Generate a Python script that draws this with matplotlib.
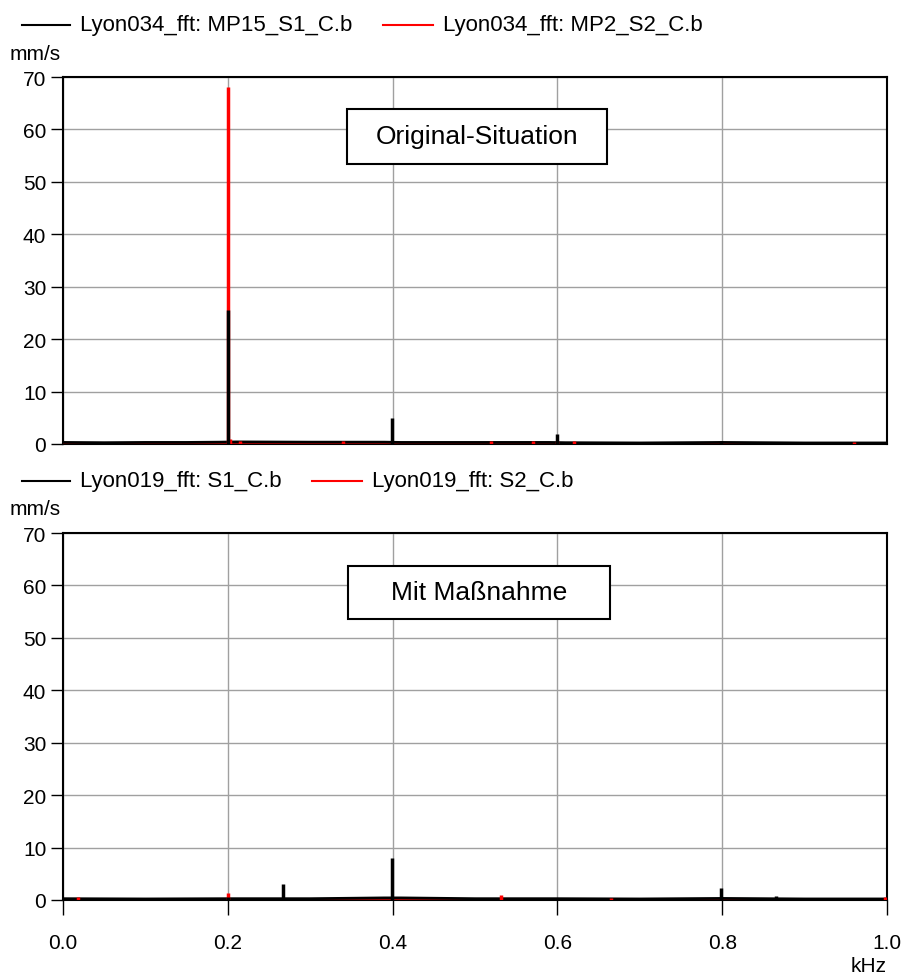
import matplotlib
matplotlib.use("Agg")
import matplotlib.pyplot as plt
from matplotlib.lines import Line2D
from matplotlib.patches import Rectangle

plt.rcParams['font.family'] = ['Liberation Sans', 'DejaVu Sans']

# --- data (kHz, mm/s) ---
# top: Lyon034
top_black_base_f = [0.0, 0.05, 0.1, 0.15, 0.19, 0.21, 0.3, 0.39, 0.41, 0.5, 0.59, 0.61, 0.7, 0.8, 0.9, 1.0]
top_black_base_a = [0.3, 0.25, 0.3, 0.3, 0.35, 0.4, 0.35, 0.35, 0.3, 0.3, 0.3, 0.25, 0.2, 0.3, 0.2, 0.2]
top_black_peak_f = [0.2005, 0.399, 0.599, 0.798, 0.998]
top_black_peak_a = [25.5, 5.0, 1.9, 0.5, 0.4]

top_red_base_f = [0.0, 0.1, 0.19, 0.21, 0.3, 0.4, 0.55, 0.6, 0.65, 0.8, 1.0]
top_red_base_a = [0.1, 0.1, 0.15, 0.2, 0.15, 0.15, 0.2, 0.2, 0.15, 0.1, 0.15]
top_red_peak_f = [0.2005, 0.203, 0.215, 0.34, 0.52, 0.57, 0.6, 0.62, 0.96]
top_red_peak_a = [68.0, 1.0, 0.6, 0.5, 0.5, 0.6, 0.6, 0.5, 0.4]

# bottom: Lyon019
bot_black_base_f = [0.0, 0.1, 0.2, 0.3, 0.39, 0.41, 0.5, 0.6, 0.7, 0.8, 0.9, 1.0]
bot_black_base_a = [0.25, 0.2, 0.25, 0.25, 0.4, 0.4, 0.25, 0.25, 0.2, 0.3, 0.2, 0.2]
bot_black_peak_f = [0.2, 0.2665, 0.3995, 0.7985, 0.865]
bot_black_peak_a = [0.6, 3.0, 8.1, 2.2, 0.8]

bot_red_base_f = [0.0, 0.25, 0.5, 0.75, 1.0]
bot_red_base_a = [0.1, 0.1, 0.1, 0.1, 0.1]
bot_red_peak_f = [0.018, 0.2, 0.532, 0.665, 0.998]
bot_red_peak_a = [0.5, 1.3, 1.0, 0.3, 0.6]

legend_top = ['Lyon034_fft: MP15_S1_C.b', 'Lyon034_fft: MP2_S2_C.b']
legend_bot = ['Lyon019_fft: S1_C.b', 'Lyon019_fft: S2_C.b']
box_text = ['Original-Situation', 'Mit Maßnahme']

W, H = 906, 979
fig = plt.figure(figsize=(W / 100, H / 100), dpi=100)

ax_left = 63 / W
ax_w = (887 - 63) / W
ax_h = (445 - 78) / H
ax1 = fig.add_axes([ax_left, 1 - 445 / H, ax_w, ax_h])
ax2 = fig.add_axes([ax_left, 1 - 901 / H, ax_w, ax_h])

series = [
    (ax1, top_red_base_f, top_red_base_a, top_red_peak_f, top_red_peak_a,
     top_black_base_f, top_black_base_a, top_black_peak_f, top_black_peak_a),
    (ax2, bot_red_base_f, bot_red_base_a, bot_red_peak_f, bot_red_peak_a,
     bot_black_base_f, bot_black_base_a, bot_black_peak_f, bot_black_peak_a),
]

for ax, rbf, rba, rpf, rpa, bbf, bba, bpf, bpa in series:
    ax.plot(rbf, rba, color='red', lw=1.2, zorder=3)
    ax.vlines(rpf, 0, rpa, color='red', lw=2.5, zorder=4)
    ax.plot(bbf, bba, color='black', lw=2.0, zorder=3.5)
    ax.vlines(bpf, 0, bpa, color='black', lw=2.5, zorder=5)
    ax.set_xlim(0, 1.0)
    ax.set_ylim(0, 70)
    ax.set_yticks(range(0, 71, 10))
    ax.set_xticks([0.0, 0.2, 0.4, 0.6, 0.8, 1.0])
    ax.grid(True, color='#a0a0a0', lw=1.0)
    ax.set_axisbelow(True)
    for s in ax.spines.values():
        s.set_linewidth(1.5)
        s.set_color('black')
    ax.tick_params(axis='y', direction='out', length=9, width=1, labelsize=15, pad=3)
    ax.tick_params(axis='x', direction='out', length=11, width=1, labelsize=15, pad=13)

ax1.tick_params(axis='x', length=0, labelbottom=False)
ax2.set_xticklabels(['0.0', '0.2', '0.4', '0.6', '0.8', '1.0'])

# annotation boxes
for ax, txt, x0, x1, y0, y1 in [(ax1, box_text[0], 0.3447, 0.660, 0.763, 0.913),
                                (ax2, box_text[1], 0.3459, 0.6638, 0.766, 0.910)]:
    ax.add_patch(Rectangle((x0, y0), x1 - x0, y1 - y0, transform=ax.transAxes,
                           fc='white', ec='black', lw=1.5, zorder=6))
    ax.text((x0 + x1) / 2, (y0 + y1) / 2, txt, transform=ax.transAxes,
            ha='center', va='center', fontsize=19, zorder=7)

# headers (legend rows and unit labels)
def header(ax_top_px, labels, red_x):
    ly = 1 - (ax_top_px - 52) / H
    fig.add_artist(Line2D([22 / W, 70 / W], [ly, ly], color='black', lw=1.5))
    fig.text(80 / W, ly, labels[0], fontsize=16, va='center', ha='left')
    fig.add_artist(Line2D([red_x / W, (red_x + 50) / W], [ly, ly], color='red', lw=1.5))
    fig.text((red_x + 60) / W, ly, labels[1], fontsize=16, va='center', ha='left')
    fig.text(10 / W, 1 - (ax_top_px - 24) / H, 'mm/s', fontsize=15, va='center', ha='left')

header(78, legend_top, 383)
header(534, legend_bot, 312)

fig.text(887 / W, 1 - 967 / H, 'kHz', fontsize=15, va='center', ha='right')

fig.savefig('out.png', dpi=100)
